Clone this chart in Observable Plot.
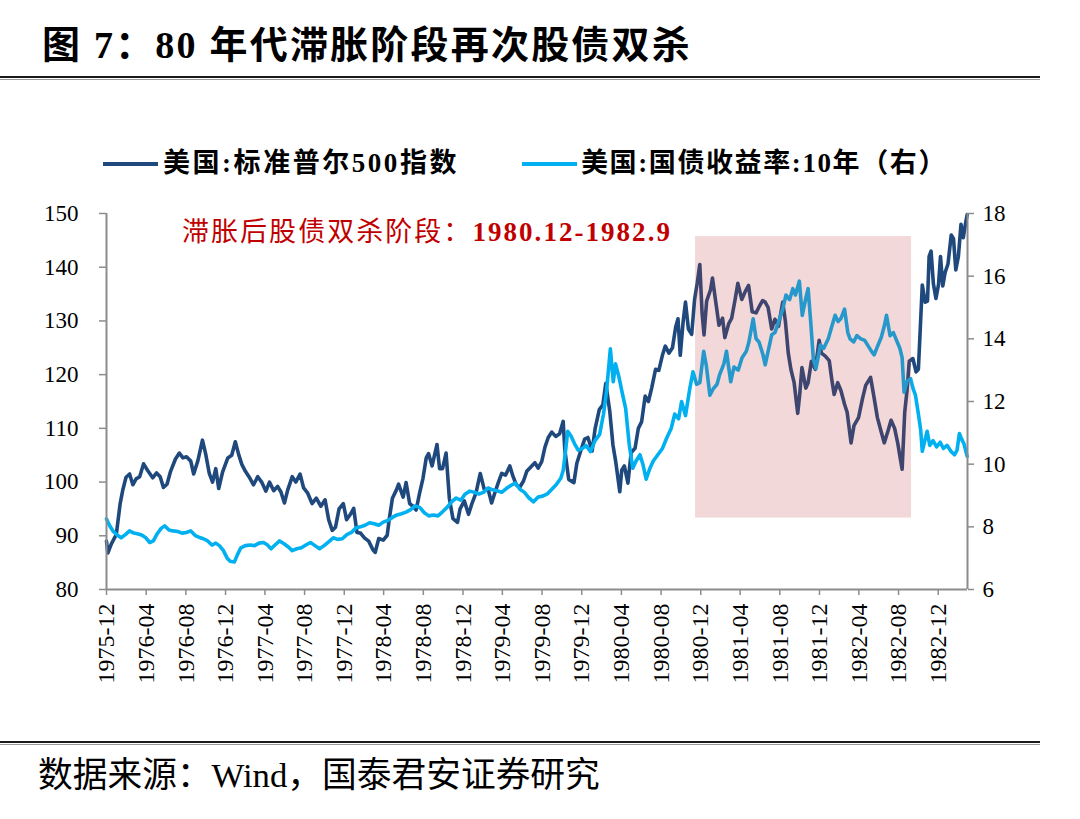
<!DOCTYPE html>
<html><head><meta charset="utf-8">
<script src="https://cdn.jsdelivr.net/npm/d3@7"></script>
<script src="https://cdn.jsdelivr.net/npm/@observablehq/plot@0.6"></script>
<style>
html,body{margin:0;padding:0;background:#fff;}
#wrap{position:relative;width:1080px;height:819px;overflow:hidden;background:#fff;}
.t{position:absolute;white-space:nowrap;line-height:1;font-family:"Liberation Serif","Noto Sans CJK SC",serif;color:#000;}
.rule{position:absolute;left:0;width:1040px;height:2px;background:#1a1a1a;}
.rule2{position:absolute;left:0;width:1040px;height:1px;background:#9a9a9a;}
.lg{position:absolute;height:4px;width:55px;}
#chart{position:absolute;left:0;top:190px;}
</style></head>
<body><div id="wrap">
<span class="t" id="title" style="left:42px;top:26px;font-size:38px;font-weight:bold;">图 7：80 年代滞胀阶段再次股债双杀</span>
<div class="rule" style="top:76px"></div><div class="rule2" style="top:79px"></div>
<div class="lg" style="left:103px;top:162px;background:#1f497d"></div>
<span class="t" id="lg1" style="left:163px;top:150px;font-size:27px;font-weight:bold;">美国:标准普尔500指数</span>
<div class="lg" style="left:522px;top:162px;background:#00b0f0"></div>
<span class="t" id="lg2" style="left:581px;top:150px;font-size:27px;font-weight:bold;">美国:国债收益率:10年（右）</span>
<div id="chart"></div>
<span class="t" id="note" style="left:182px;top:219px;font-size:27px;color:#c00000;">滞胀后股债双杀阶段：<b>1980.12-1982.9</b></span>
<div class="rule" style="top:741px"></div><div class="rule2" style="top:744px"></div>
<span class="t" id="src" style="left:38px;top:759px;font-size:30px;">数据来源：Wind，国泰君安证券研究</span>
</div>
<script>
// ---- data ----
const spxDates = ["1975-12-01","1975-12-05","1975-12-16","1975-12-31","1976-01-12","1976-01-20","1976-01-30","1976-02-10","1976-02-20","1976-03-01","1976-03-12","1976-03-24","1976-04-05","1976-04-21","1976-05-03","1976-05-14","1976-05-24","1976-06-04","1976-06-15","1976-06-30","1976-07-12","1976-07-23","1976-08-03","1976-08-16","1976-08-25","1976-09-07","1976-09-21","1976-10-01","1976-10-12","1976-10-22","1976-11-01","1976-11-10","1976-11-22","1976-12-08","1976-12-20","1976-12-31","1977-01-10","1977-01-20","1977-01-31","1977-02-14","1977-02-25","1977-03-10","1977-03-22","1977-04-04","1977-04-15","1977-04-28","1977-05-10","1977-05-20","1977-05-31","1977-06-10","1977-06-24","1977-07-05","1977-07-18","1977-07-29","1977-08-10","1977-08-24","1977-09-06","1977-09-20","1977-10-03","1977-10-14","1977-10-25","1977-11-04","1977-11-15","1977-11-28","1977-12-08","1977-12-20","1977-12-30","1978-01-09","1978-01-20","1978-02-01","1978-02-14","1978-02-27","1978-03-06","1978-03-17","1978-03-31","1978-04-12","1978-04-18","1978-04-28","1978-05-10","1978-05-17","1978-05-31","1978-06-09","1978-06-20","1978-06-30","1978-07-10","1978-07-20","1978-07-31","1978-08-10","1978-08-17","1978-08-28","1978-09-12","1978-09-20","1978-09-29","1978-10-10","1978-10-20","1978-10-31","1978-11-14","1978-11-22","1978-12-05","1978-12-18","1978-12-29","1979-01-10","1979-01-23","1979-02-05","1979-02-16","1979-02-27","1979-03-09","1979-03-20","1979-03-30","1979-04-11","1979-04-24","1979-05-04","1979-05-14","1979-05-24","1979-06-05","1979-06-15","1979-06-29","1979-07-10","1979-07-20","1979-07-31","1979-08-10","1979-08-20","1979-08-31","1979-09-12","1979-09-24","1979-10-05","1979-10-10","1979-10-22","1979-11-07","1979-11-16","1979-11-30","1979-12-10","1979-12-20","1980-01-02","1980-01-11","1980-01-24","1980-02-04","1980-02-13","1980-02-25","1980-03-06","1980-03-14","1980-03-27","1980-04-02","1980-04-10","1980-04-21","1980-05-01","1980-05-13","1980-05-23","1980-06-02","1980-06-13","1980-06-23","1980-07-03","1980-07-15","1980-07-25","1980-08-05","1980-08-14","1980-08-25","1980-09-05","1980-09-15","1980-09-22","1980-09-29","1980-10-08","1980-10-15","1980-10-24","1980-11-03","1980-11-12","1980-11-20","1980-11-28","1980-12-05","1980-12-11","1980-12-19","1980-12-31","1981-01-06","1981-01-15","1981-01-26","1981-02-06","1981-02-13","1981-02-25","1981-03-06","1981-03-16","1981-03-25","1981-04-06","1981-04-17","1981-04-27","1981-05-08","1981-05-20","1981-05-29","1981-06-09","1981-06-17","1981-06-26","1981-07-07","1981-07-17","1981-07-28","1981-08-10","1981-08-18","1981-08-27","1981-09-04","1981-09-14","1981-09-25","1981-10-01","1981-10-08","1981-10-20","1981-10-27","1981-11-06","1981-11-18","1981-11-30","1981-12-07","1981-12-18","1981-12-31","1982-01-08","1982-01-15","1982-01-26","1982-02-05","1982-02-16","1982-02-24","1982-03-08","1982-03-17","1982-03-31","1982-04-12","1982-04-22","1982-05-07","1982-05-17","1982-05-28","1982-06-08","1982-06-18","1982-06-30","1982-07-09","1982-07-20","1982-07-30","1982-08-06","1982-08-12","1982-08-17","1982-08-20","1982-08-27","1982-09-03","1982-09-14","1982-09-24","1982-10-01","1982-10-07","1982-10-13","1982-10-22","1982-10-29","1982-11-03","1982-11-09","1982-11-16","1982-11-24","1982-12-02","1982-12-08","1982-12-15","1982-12-22","1982-12-31","1983-01-10","1983-01-17","1983-01-24","1983-02-01","1983-02-09","1983-02-16","1983-02-24","1983-02-28"];
const spxValues = [89.0,86.8,88.5,90.2,96.0,98.5,100.9,101.5,99.5,100.6,101.0,103.4,102.2,100.8,101.7,101.0,99.0,99.6,102.0,104.3,105.4,104.5,104.7,103.9,101.5,104.0,107.8,105.2,101.6,100.0,102.5,98.8,101.9,104.5,105.0,107.5,105.2,103.3,102.0,100.7,99.5,101.0,100.0,98.3,100.0,98.4,99.2,98.2,96.1,98.5,101.0,100.0,101.5,98.9,98.0,96.0,97.0,95.5,96.7,93.0,91.0,91.6,95.0,96.0,93.0,94.0,95.1,90.6,90.5,89.6,89.0,87.4,86.9,89.5,89.2,90.1,93.0,97.0,98.5,99.6,97.2,99.9,96.0,95.5,94.8,97.8,100.7,104.5,105.3,103.0,107.0,102.5,102.5,105.4,97.0,93.2,92.5,95.0,96.5,94.0,96.1,98.0,101.6,98.5,98.7,96.1,98.0,100.0,101.6,101.3,103.0,101.0,99.5,99.0,100.2,102.0,102.9,103.6,102.6,103.8,106.5,108.3,109.3,108.5,109.0,111.3,106.0,100.5,99.9,103.5,106.2,108.0,108.3,105.8,109.9,113.5,114.4,118.4,113.3,106.9,104.0,98.2,102.2,103.0,99.8,105.5,106.3,110.0,111.2,116.0,115.0,117.5,121.0,120.8,123.6,125.3,124.0,125.0,128.9,130.4,123.6,130.0,133.5,128.5,127.5,134.0,137.0,140.5,131.5,127.4,133.7,135.8,138.0,134.0,129.2,130.5,126.9,129.5,130.5,133.8,137.0,134.0,135.5,136.6,131.7,131.5,132.6,133.8,133.5,132.5,128.5,130.3,129.0,133.5,130.0,124.0,121.0,118.5,112.8,116.2,121.3,117.5,118.5,122.5,121.0,126.4,124.0,123.5,122.6,119.0,116.3,118.5,117.0,114.5,113.0,107.3,110.5,112.0,115.5,118.0,119.5,116.0,112.0,109.5,107.3,109.6,111.5,110.0,107.1,104.5,102.4,109.0,113.0,117.0,122.5,123.0,120.5,121.0,128.8,136.7,133.5,133.7,142.0,143.0,137.0,134.2,136.8,142.0,136.5,139.0,140.6,146.0,145.3,139.5,142.0,148.0,145.5,148.5,149.8];

const ustDates = ["1975-12-01","1975-12-10","1975-12-22","1976-01-05","1976-01-15","1976-01-28","1976-02-10","1976-02-23","1976-03-05","1976-03-18","1976-03-31","1976-04-12","1976-04-23","1976-05-05","1976-05-17","1976-05-28","1976-06-10","1976-06-23","1976-07-07","1976-07-20","1976-08-02","1976-08-16","1976-08-30","1976-09-10","1976-09-24","1976-10-07","1976-10-20","1976-11-01","1976-11-12","1976-11-24","1976-12-06","1976-12-15","1976-12-28","1977-01-07","1977-01-17","1977-01-31","1977-02-14","1977-02-28","1977-03-14","1977-03-28","1977-04-08","1977-04-20","1977-05-02","1977-05-16","1977-05-31","1977-06-13","1977-06-24","1977-07-08","1977-07-22","1977-08-05","1977-08-19","1977-09-02","1977-09-16","1977-09-30","1977-10-14","1977-10-28","1977-11-10","1977-11-25","1977-12-09","1977-12-23","1978-01-06","1978-01-20","1978-02-03","1978-02-17","1978-03-03","1978-03-17","1978-03-31","1978-04-14","1978-04-28","1978-05-12","1978-05-26","1978-06-09","1978-06-23","1978-07-07","1978-07-21","1978-08-04","1978-08-18","1978-09-01","1978-09-15","1978-09-29","1978-10-13","1978-10-27","1978-11-10","1978-11-24","1978-12-08","1978-12-22","1979-01-05","1979-01-19","1979-02-02","1979-02-16","1979-03-02","1979-03-16","1979-03-30","1979-04-13","1979-04-27","1979-05-11","1979-05-25","1979-06-08","1979-06-22","1979-07-06","1979-07-20","1979-08-03","1979-08-17","1979-08-31","1979-09-14","1979-09-28","1979-10-05","1979-10-12","1979-10-19","1979-10-29","1979-11-09","1979-11-20","1979-12-03","1979-12-14","1979-12-28","1980-01-11","1980-01-25","1980-02-06","1980-02-15","1980-02-27","1980-03-07","1980-03-14","1980-03-24","1980-04-03","1980-04-14","1980-04-25","1980-05-06","1980-05-16","1980-05-28","1980-06-06","1980-06-16","1980-06-27","1980-07-08","1980-07-22","1980-08-05","1980-08-19","1980-09-01","1980-09-12","1980-09-24","1980-10-03","1980-10-15","1980-10-28","1980-11-07","1980-11-18","1980-11-28","1980-12-10","1980-12-18","1980-12-29","1981-01-08","1981-01-20","1981-01-28","1981-02-10","1981-02-18","1981-03-03","1981-03-13","1981-03-26","1981-04-07","1981-04-20","1981-04-28","1981-05-11","1981-05-20","1981-05-29","1981-06-10","1981-06-17","1981-06-26","1981-07-07","1981-07-17","1981-07-28","1981-08-10","1981-08-20","1981-08-31","1981-09-10","1981-09-18","1981-09-30","1981-10-09","1981-10-20","1981-10-27","1981-11-05","1981-11-12","1981-11-20","1981-12-04","1981-12-14","1981-12-28","1982-01-08","1982-01-18","1982-01-27","1982-02-05","1982-02-16","1982-02-26","1982-03-05","1982-03-16","1982-03-26","1982-04-07","1982-04-19","1982-04-28","1982-05-10","1982-05-18","1982-05-28","1982-06-09","1982-06-18","1982-06-25","1982-07-06","1982-07-16","1982-07-28","1982-08-05","1982-08-12","1982-08-18","1982-08-27","1982-09-07","1982-09-15","1982-09-22","1982-10-01","1982-10-08","1982-10-13","1982-10-22","1982-10-28","1982-11-05","1982-11-15","1982-11-26","1982-12-07","1982-12-17","1982-12-28","1983-01-10","1983-01-20","1983-01-28","1983-02-04","1983-02-11","1983-02-18","1983-02-28"];
const ustValues = [8.25,8.05,7.85,7.72,7.65,7.75,7.87,7.80,7.78,7.74,7.65,7.50,7.55,7.78,7.95,8.03,7.90,7.87,7.85,7.80,7.82,7.87,7.72,7.67,7.62,7.55,7.42,7.48,7.40,7.25,7.00,6.90,6.88,7.12,7.33,7.40,7.42,7.40,7.48,7.50,7.43,7.30,7.42,7.55,7.45,7.35,7.24,7.30,7.33,7.42,7.50,7.40,7.30,7.40,7.52,7.65,7.60,7.62,7.75,7.82,7.97,8.00,8.05,8.13,8.10,8.05,8.15,8.20,8.30,8.38,8.42,8.47,8.55,8.67,8.62,8.45,8.35,8.38,8.35,8.48,8.62,8.80,8.92,8.85,9.05,9.14,9.10,9.05,9.10,9.24,9.18,9.15,9.10,9.22,9.32,9.40,9.20,9.10,8.92,8.80,8.95,8.98,9.05,9.20,9.35,9.56,9.80,10.40,11.05,10.90,10.65,10.45,10.50,10.60,10.40,10.75,10.95,11.60,12.30,13.68,12.63,13.20,12.80,12.30,11.78,10.63,9.87,10.10,10.30,10.00,9.52,9.85,10.10,10.30,10.50,10.85,11.14,11.60,11.45,12.00,11.55,12.40,12.95,12.55,12.60,13.60,13.15,12.20,12.40,12.55,12.86,13.20,13.60,12.63,13.10,13.00,13.40,13.60,13.90,14.64,14.00,13.90,13.50,13.17,13.60,14.13,14.20,14.54,14.95,15.40,15.25,15.60,15.40,15.84,14.75,15.30,15.60,14.40,13.37,13.05,13.80,13.70,14.00,14.40,14.75,14.55,14.65,14.95,14.20,14.00,13.90,14.10,14.00,13.95,13.80,13.60,13.49,13.75,14.05,14.40,14.75,14.10,14.20,13.90,13.70,13.40,12.30,12.65,12.73,12.40,12.20,11.60,11.10,10.41,10.80,11.05,10.60,10.75,10.55,10.70,10.50,10.60,10.40,10.30,10.45,10.98,10.80,10.65,10.25];

const xTickLabels = ["1975-12","1976-04","1976-08","1976-12","1977-04","1977-08","1977-12","1978-04","1978-08","1978-12","1979-04","1979-08","1979-12","1980-04","1980-08","1980-12","1981-04","1981-08","1981-12","1982-04","1982-08","1982-12"];
const leftTicks = [80,90,100,110,120,130,140,150];
const rightTicks = [6,8,10,12,14,16,18];
const leftDomain = [80,150];
const rightDomain = [6,18];
const xDomain = ["1975-12-01","1983-03-01"];
const shadePeriod = [{start:"1980-11-15", end:"1982-09-10", low:93.3, high:145.7}];

// ---- build ----
const parse = d3.utcParse("%Y-%m-%d");
const parseM = d3.utcParse("%Y-%m");
const spx = spxDates.map((d,i)=>({date:parse(d), value:spxValues[i]}));
const ust = ustDates.map((d,i)=>({date:parse(d), value:ustValues[i]}));
const toLeft = d3.scaleLinear().domain(rightDomain).range(leftDomain);
const xTicks = xTickLabels.map(parseM);
const shade = shadePeriod.map(s=>({x1:parse(s.start), x2:parse(s.end), y1:s.low, y2:s.high}));
const axisGray = "#8c8c8c";
const xd = xDomain.map(parse);

const chart = Plot.plot({
  width:1080, height:504,
  marginLeft:106, marginRight:113, marginTop:23, marginBottom:105,
  x:{type:"utc", domain:xd},
  y:{domain:leftDomain},
  style:{fontFamily:'"Liberation Serif", serif', fontSize:"23px", color:"#000", background:"transparent", overflow:"visible"},
  marks:[
    Plot.line(spx,{x:"date", y:"value", stroke:"#1f497d", strokeWidth:3.6}),
    Plot.line(ust,{x:"date", y:d=>toLeft(d.value), stroke:"#00b0f0", strokeWidth:3.6}),
    Plot.rect(shade,{x1:"x1", x2:"x2", y1:"y1", y2:"y2", fill:"rgb(190,60,60)", fillOpacity:0.2}),
    Plot.ruleX([xd[0]],{stroke:axisGray, strokeWidth:2}),
    Plot.ruleX([xd[1]],{stroke:axisGray, strokeWidth:2}),
    Plot.ruleY([leftDomain[0]],{stroke:axisGray, strokeWidth:2}),
    Plot.axisY({ticks:leftTicks, tickSize:7, tickPadding:21, stroke:axisGray, strokeWidth:1.5, label:null}),
    Plot.axisY({anchor:"right", ticks:rightTicks.map(v=>toLeft(v)), tickFormat:d=>String(Math.round(toLeft.invert(d))), tickSize:6, tickPadding:9, stroke:axisGray, strokeWidth:1.5, label:null}),
    Plot.axisX({ticks:xTicks, tickFormat:d3.utcFormat("%Y-%m"), tickRotate:-90, tickSize:6, tickPadding:8, fontSize:24, stroke:axisGray, strokeWidth:1.5, label:null})
  ]
});
document.getElementById("chart").appendChild(chart);

// fit text widths to the reference layout
function fitSpacing(id, target){
  const el = document.getElementById(id);
  const w = el.getBoundingClientRect().width;
  const n = el.textContent.length;
  el.style.letterSpacing = ((target - w)/n) + "px";
}
function fitSize(id, target){
  const el = document.getElementById(id);
  const w = el.getBoundingClientRect().width;
  const fs = parseFloat(el.style.fontSize);
  el.style.fontSize = (fs * target / w) + "px";
}
fitSpacing("title", 650);
fitSpacing("lg1", 296);
fitSpacing("lg2", 366);
fitSpacing("note", 490);
fitSize("src", 562);
</script>
</body></html>
